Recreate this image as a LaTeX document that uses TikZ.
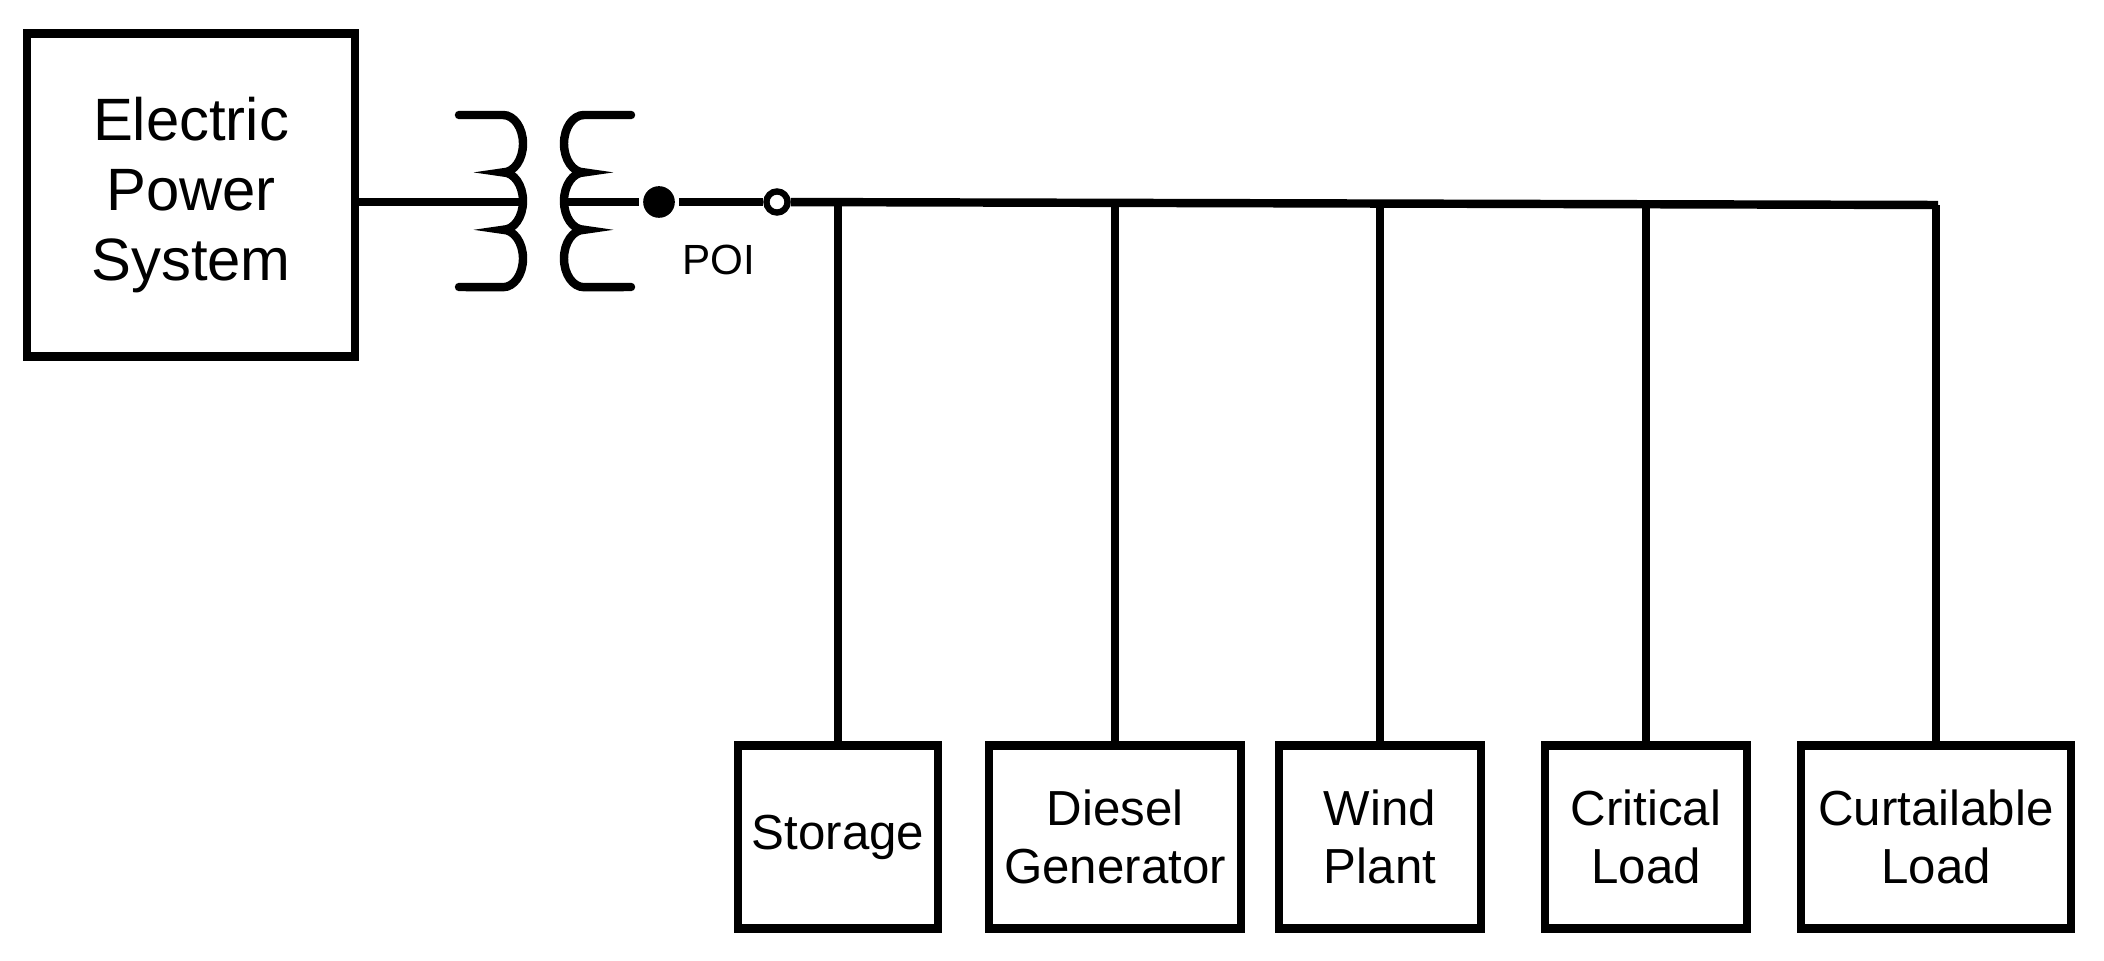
\documentclass[tikz,border=0pt]{standalone}
\usepackage{fontspec}
\setmainfont{Liberation Sans}
\usetikzlibrary{positioning}

\begin{document}
\begin{tikzpicture}[x=0.01cm,y=0.01cm, line width=2.4pt,
  unit/.style={draw,line width=2.4pt,align=center,inner sep=0pt,font=\fontsize{14}{16.5}\selectfont},
  wire/.style={line width=2.4pt}
]
\useasboundingbox (0,0) rectangle (2104,960);
\node[unit,minimum width=3.28cm,minimum height=3.23cm,font=\fontsize{17}{20}\selectfont] (eps) at (191,765) {Electric\\Power\\System};

% transformer
\coordinate (pa) at (523,758);
\coordinate (sa) at (564,758);
\draw[wire,line cap=round] (459,845) -- (503,845) arc[start angle=90,end angle=-90,x radius=20,y radius=28.7]
  arc[start angle=90,end angle=-90,x radius=20,y radius=28.7]
  arc[start angle=90,end angle=-90,x radius=20,y radius=28.7] -- (459,673);
\draw[wire,line cap=round] (631,845) -- (584,845) arc[start angle=90,end angle=270,x radius=20,y radius=28.7]
  arc[start angle=90,end angle=270,x radius=20,y radius=28.7]
  arc[start angle=90,end angle=270,x radius=20,y radius=28.7] -- (631,673);
\draw[wire] (eps.east |- pa) -- (pa);

\node[circle,fill,inner sep=0pt,minimum size=9pt] (p1) at (659,758) {};
\node[circle,draw,fill=white,line width=1.8pt,inner sep=0pt,minimum size=6pt] (p2) at (777,758) {};
\draw[wire] (sa) -- (p1) -- (p2);
\node[font=\fontsize{12}{14}\selectfont] (poi) at (719,700) {POI};
\coordinate (busend) at (1938,755);
\draw[wire] (p2) -- (busend);

\node[unit,minimum width=2.0cm,minimum height=1.83cm] (sto) at (838,123) {Storage};
\node[unit,minimum width=2.52cm,minimum height=1.83cm] (die) at (1115,123) {Diesel\\Generator};
\node[unit,minimum width=2.02cm,minimum height=1.83cm] (win) at (1380,123) {Wind\\Plant};
\node[unit,minimum width=2.02cm,minimum height=1.83cm] (cri) at (1646,123) {Critical\\Load};
\node[unit,minimum width=2.7cm,minimum height=1.83cm] (cur) at (1936,123) {Curtailable\\Load};

\foreach \u in {sto,die,win,cri,cur}
  \draw[wire] (\u.north) -- (\u.north |- busend);
\end{tikzpicture}
\end{document}
